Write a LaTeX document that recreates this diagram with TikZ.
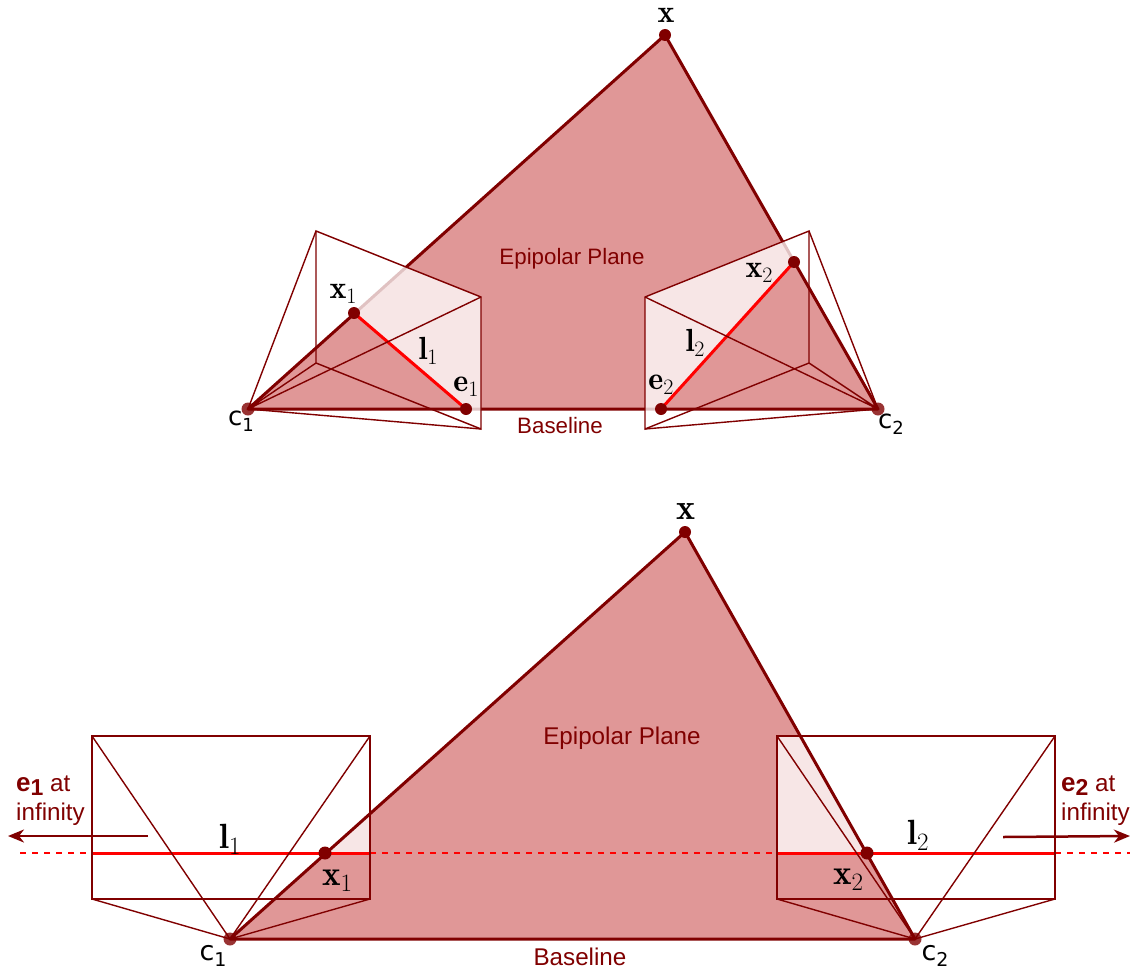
\documentclass[tikz,border=0pt]{standalone}
\usepackage{fontspec}
\setmainfont{Liberation Sans}
\newfontfamily\cfont{DejaVu Sans}
\usetikzlibrary{arrows.meta,calc}
\definecolor{dkred}{RGB}{128,0,0}
\definecolor{planefill}{RGB}{224,151,151}
\newcommand{\mlab}[3]{{\fontfamily{lmr}\fontsize{#1}{#1}\selectfont\textbf{#2}\raisebox{-0.17em}{\fontsize{\numexpr#1*7/10\relax}{#1}\selectfont #3}}}
\newcommand{\csub}[3]{{\cfont\fontsize{#1}{#1}\selectfont #2\raisebox{-0.22em}{\fontsize{\numexpr#1*7/10\relax}{#1}\selectfont #3}}}
\newcommand{\esub}[1]{\textbf{\fontsize{26}{29}\selectfont e\raisebox{-0.15em}{\fontsize{23}{29}\selectfont #1}}}
\tikzset{
  plane/.style={fill=planefill,draw=dkred,line width=3pt,line join=round},
  frameline/.style={draw=dkred,line width=1.4pt,line join=miter},
  epiline/.style={draw=red,line width=3pt},
  dotline/.style={draw=red,line width=1.8pt,dash pattern=on 6pt off 6pt},
  veil/.style={fill=white,fill opacity=0.76},
  pointdot/.style={circle,fill=dkred,inner sep=0pt,minimum size=12pt},
  camdot/.style={circle,fill=dkred,fill opacity=0.8,inner sep=0pt,minimum size=13pt},
  txt/.style={text=dkred,inner sep=0pt,align=center},
  toptxt/.style={txt,font=\fontsize{22.3}{24}\selectfont},
  bottxt/.style={txt,font=\fontsize{24.2}{29}\selectfont},
  inftxt/.style={bottxt,align=left},
  mathlab/.style={text=black,inner sep=0pt},
  camlab/.style={text=black,inner sep=0pt},
  infarrow/.style={draw=dkred,line width=2.5pt,-{Stealth[length=16pt,width=13pt,inset=5pt]}}
}
\begin{document}
\begin{tikzpicture}[x=1pt,y=-1pt]
\useasboundingbox (0,0) rectangle (1134,974);
% ---------- top figure ----------
\coordinate (X) at (665,35);
\coordinate (C1) at (248,409);
\coordinate (C2) at (878,409);
\coordinate (P1a) at (316,231);
\coordinate (P1b) at (481,297);
\coordinate (P1c) at (481,429);
\coordinate (P1d) at (316,363);
\coordinate (P2a) at (809,231);
\coordinate (P2b) at (645,297);
\coordinate (P2c) at (645,429);
\coordinate (P2d) at (809,363);
\coordinate (X1) at (354,313);
\coordinate (E1) at (466,409);
\coordinate (X2) at (794,262);
\coordinate (E2) at (661,409);
\path[plane] (X) -- (C1) -- (C2) -- cycle;
\begin{scope}
  \clip (P1a) -- (P1b) -- (P1c) -- (P1d) -- cycle;
  \path[veil] (X1) -- ($(X1)+(-2,-2)$) -- ($(X)+(-3,-3)$) -- (C2) -- (490,411) -- ($(E1)+(0,2)$) -- (E1) -- cycle;
\end{scope}
\begin{scope}
  \clip (P2a) -- (P2b) -- (P2c) -- (P2d) -- cycle;
  \path[veil] (X2) -- ($(X2)+(3,-2)$) -- ($(X)+(3,-3)$) -- (C1) -- (640,411) -- ($(E2)+(0,2)$) -- (E2) -- cycle;
\end{scope}
\draw[epiline] (X1) -- (E1);
\draw[epiline] (X2) -- (E2);
\draw[frameline] (P1a) -- (P1b) -- (P1c) -- (P1d) -- cycle;
\draw[frameline] (P2a) -- (P2b) -- (P2c) -- (P2d) -- cycle;
\draw[frameline] (C1) -- (P1a) (C1) -- (P1b) (C1) -- (P1c) (C1) -- (P1d);
\draw[frameline] (C2) -- (P2a) (C2) -- (P2b) (C2) -- (P2c) (C2) -- (P2d);
\node[pointdot] (dX) at (X) {};
\node[pointdot] (dX1) at (X1) {};
\node[pointdot] (dE1) at (E1) {};
\node[pointdot] (dX2) at (X2) {};
\node[pointdot] (dE2) at (E2) {};
\node[camdot] (dC1) at (C1) {};
\node[camdot] (dC2) at (C2) {};
\node[mathlab] (lX) at (666,18) {\mlab{32}{x}{}};
\node[mathlab] (lX1) at (343,294) {\mlab{32}{x}{1}};
\node[mathlab] (lL1) at (428,351) {\mlab{32}{l}{1}};
\node[mathlab] (lE1) at (466,387) {\mlab{32}{e}{1}};
\node[mathlab] (lX2) at (759,273) {\mlab{32}{x}{2}};
\node[mathlab] (lL2) at (695,343) {\mlab{32}{l}{2}};
\node[mathlab] (lE2) at (661,385) {\mlab{32}{e}{2}};
\node[camlab] (lC1) at (241,421) {\csub{26}{c}{1}};
\node[camlab] (lC2) at (891,424) {\csub{26}{c}{2}};
\node[toptxt] (tEP) at (572,259) {Epipolar Plane};
\node[toptxt] (tBL) at (560,426) {Baseline};
% ---------- bottom figure ----------
\coordinate (BX) at (685,532);
\coordinate (BC1) at (230,939);
\coordinate (BC2) at (915,939);
\coordinate (Q1a) at (92,736);
\coordinate (Q1b) at (370,736);
\coordinate (Q1c) at (370,899);
\coordinate (Q1d) at (92,899);
\coordinate (Q2a) at (777,736);
\coordinate (Q2b) at (1055,736);
\coordinate (Q2c) at (1055,899);
\coordinate (Q2d) at (777,899);
\coordinate (BX1) at (325,853);
\coordinate (BX2) at (867,853);
\coordinate (L0) at (20,853);
\coordinate (L1) at (92,853);
\coordinate (L2) at (370,853);
\coordinate (L3) at (777,853);
\coordinate (L4) at (1055,853);
\coordinate (L5) at (1130,853);
\path[fill=planefill] (BX) -- (BC1) -- (BC2) -- cycle;
\begin{scope}
  \clip (Q1a) rectangle (L2);
  \path[veil] (BX) -- (BC1) -- (BC2) -- cycle;
\end{scope}
\begin{scope}
  \clip (Q2a) rectangle (L4);
  \path[veil] (BX) -- (BC1) -- (BC2) -- cycle;
\end{scope}
\path[plane,fill=none] (BX) -- (BC1) -- (BC2) -- cycle;
\draw[dotline] (L0) -- (L1);
\draw[dotline] (L2) -- (L3);
\draw[dotline] (L4) -- (L5);
\draw[epiline] (L1) -- (L2);
\draw[epiline] (L3) -- (L4);
\draw[frameline] (Q1a) -- (Q1b) -- (Q1c) -- (Q1d) -- cycle;
\draw[frameline] (Q2a) -- (Q2b) -- (Q2c) -- (Q2d) -- cycle;
\draw[frameline] (BC1) -- (Q1a) (BC1) -- (Q1b) (BC1) -- (Q1c) (BC1) -- (Q1d);
\draw[frameline] (BC2) -- (Q2a) (BC2) -- (Q2b) (BC2) -- (Q2c) (BC2) -- (Q2d);
\node[pointdot] (dBX) at (BX) {};
\node[pointdot,minimum size=13pt] (dBX1) at (BX1) {};
\node[pointdot,minimum size=13pt] (dBX2) at (BX2) {};
\node[camdot] (dBC1) at (BC1) {};
\node[camdot] (dBC2) at (BC2) {};
\node[mathlab] (mX) at (686,515) {\mlab{36}{x}{}};
\node[mathlab] (mL1) at (230,839) {\mlab{35}{l}{1}};
\node[mathlab] (mX1) at (337,881) {\mlab{35}{x}{1}};
\node[mathlab] (mL2) at (918,835) {\mlab{35}{l}{2}};
\node[mathlab] (mX2) at (848,880) {\mlab{35}{x}{2}};
\node[camlab] (mC1) at (213,956) {\csub{27}{c}{1}};
\node[camlab] (mC2) at (935,956) {\csub{27}{c}{2}};
\node[bottxt] (bEP) at (622,738) {Epipolar Plane};
\node[bottxt] (bBL) at (580,957) {Baseline};
\node[inftxt,anchor=west] (bE1) at (16,801) {\esub{1} at\\infinity};
\node[inftxt,anchor=west] (bE2) at (1061,801) {\esub{2} at\\infinity};
\coordinate (A1s) at (148,836);
\coordinate (A1e) at (8,836);
\coordinate (A2s) at (1003,837);
\coordinate (A2e) at (1130,836);
\draw[infarrow] (A1s) -- (A1e);
\draw[infarrow] (A2s) -- (A2e);
\end{tikzpicture}
\end{document}
